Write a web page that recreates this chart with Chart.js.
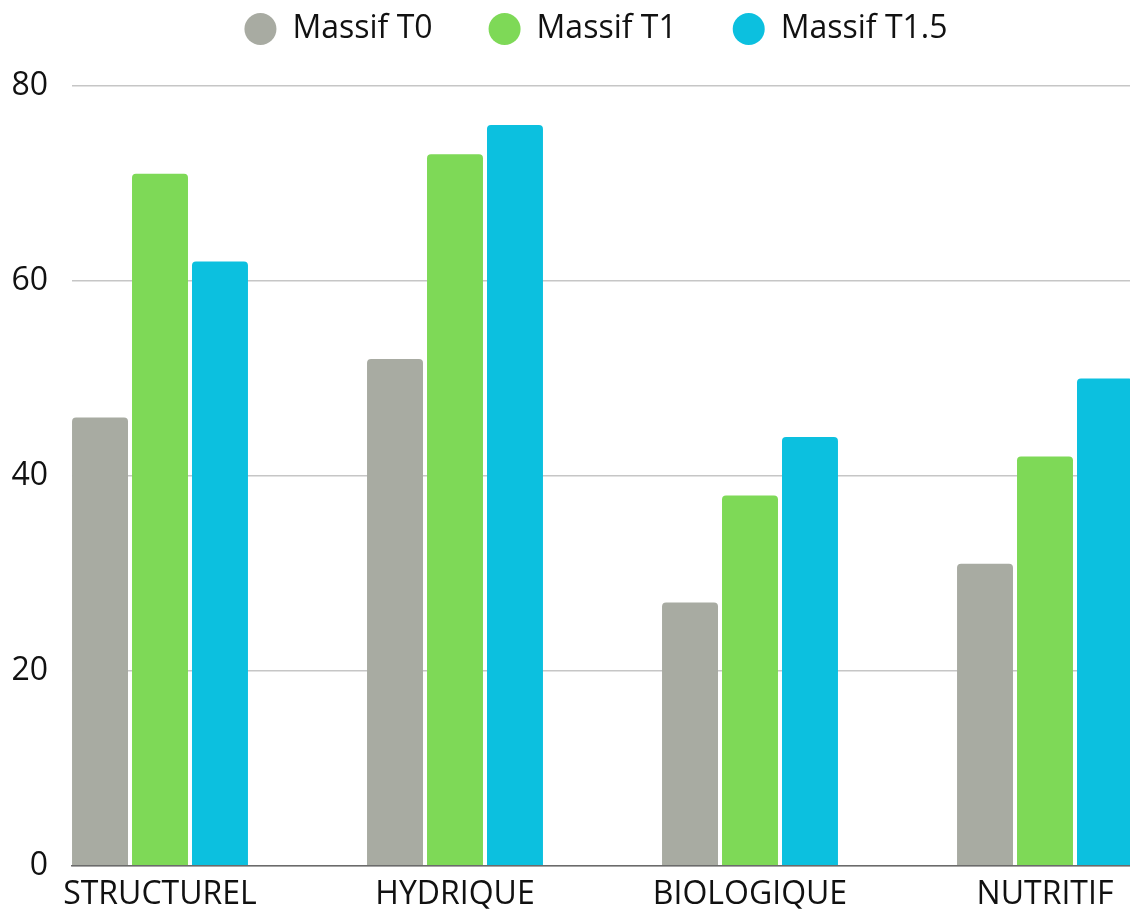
<!DOCTYPE html>
<html lang="fr">
<head>
<meta charset="utf-8">
<title>Massif</title>
<script src="https://cdn.jsdelivr.net/npm/chart.js@4/dist/chart.umd.min.js"></script>
<style>
  html, body { margin: 0; padding: 0; background: #fff; overflow: hidden; }
  #wrap { width: 1130px; height: 909px; overflow: hidden; position: relative; }
  canvas { display: block; }
</style>
</head>
<body>
<div id="wrap"><canvas id="chart" width="1192" height="909"></canvas></div>
<script>
// Categories and series values
const categories = ['STRUCTUREL', 'HYDRIQUE', 'BIOLOGIQUE', 'NUTRITIF'];
const seriesNames = ['Massif T0', 'Massif T1', 'Massif T1.5'];
const massifT0 = [46, 52, 27, 31];
const massifT1 = [71, 73, 38, 42];
const massifT15 = [62, 76, 44, 50];
const yTickValues = [0, 20, 40, 60, 80];

const colors = ['#a8aba2', '#7ed957', '#0cc0df'];
const FONT = "'Open Sans', 'Noto Sans', sans-serif";
const TEXT = '#111111';

const toPoints = (values) => values.map((v, i) => ({ x: i, y: v }));

const datasets = [massifT0, massifT1, massifT15].map((values, k) => ({
  label: seriesNames[k],
  data: toPoints(values),
  backgroundColor: colors[k],
  borderWidth: 0,
  borderRadius: 4,
  barPercentage: 0.933,
  categoryPercentage: 0.61
}));

// Give the legend band a fixed height so the plot starts below it
const legendHeight = {
  id: 'legendHeight',
  beforeInit(chart) {
    const legend = chart.legend;
    if (!legend) return;
    const fit = legend.fit.bind(legend);
    legend.fit = function () {
      fit();
      this.height = 129;
    };
  }
};

new Chart(document.getElementById('chart'), {
  type: 'bar',
  data: { datasets },
  plugins: [legendHeight],
  options: {
    responsive: false,
    animation: false,
    devicePixelRatio: 1,
    layout: { padding: { top: -43, left: 0, right: 0, bottom: 0 } },
    plugins: {
      tooltip: { enabled: false },
      legend: {
        position: 'top',
        align: 'center',
        labels: {
          font: { family: FONT, size: 32 },
          color: TEXT,
          usePointStyle: true,
          pointStyle: 'circle',
          boxHeight: 22.6,
          pointStyleWidth: 32,
          padding: 56
        }
      }
    },
    scales: {
      x: {
        type: 'linear',
        min: -0.2983,
        max: 3.4983,
        offset: false,
        grid: { display: false, drawTicks: false },
        border: { display: true, color: '#6b6b6b', width: 1.5 },
        afterBuildTicks(scale) {
          scale.ticks = categories.map((_, i) => ({ value: i }));
        },
        afterFit(scale) { scale.height = 43; },
        ticks: {
          autoSkip: false,
          maxRotation: 0,
          padding: 10,
          font: { family: FONT, size: 32 },
          color: TEXT,
          callback: (v) => categories[v] ?? ''
        }
      },
      y: {
        min: 0,
        max: 80,
        grid: { color: '#c6c6c6', lineWidth: 1.5, drawTicks: false },
        border: { display: false },
        afterBuildTicks(scale) {
          scale.ticks = yTickValues.map((v) => ({ value: v }));
        },
        afterFit(scale) { scale.width = 72; },
        ticks: {
          padding: 24,
          font: { family: FONT, size: 32 },
          color: TEXT
        }
      }
    }
  }
});
</script>
</body>
</html>
